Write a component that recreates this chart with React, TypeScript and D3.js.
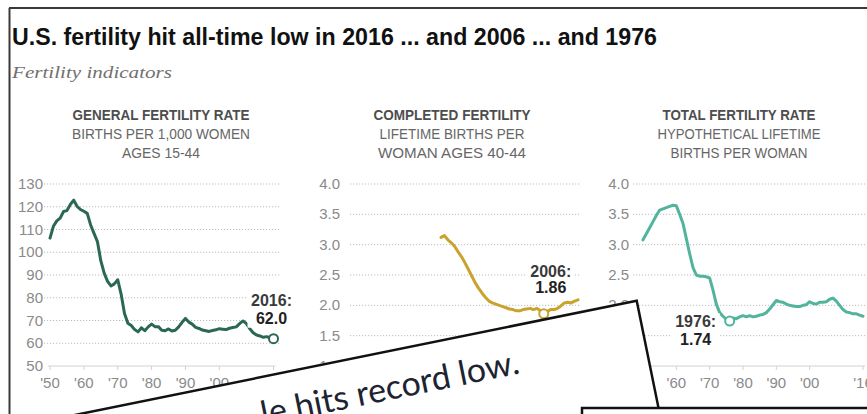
import React from 'react';
import * as d3 from 'd3';

// ---- data ----
const years = d3.range(1950, 2017);

const gfrValues = [
  106.2, 111.4, 113.8, 115.0, 117.9, 118.3, 121.0, 122.9, 120.2, 118.8,
  118.0, 117.1, 112.0, 108.3, 104.7, 96.3, 90.8, 87.2, 85.2, 86.1,
  87.9, 81.6, 73.1, 68.8, 67.8, 66.0, 65.0, 66.8, 65.5, 67.2,
  68.4, 67.3, 67.3, 65.7, 65.5, 66.3, 65.4, 65.7, 67.2, 69.2,
  70.9, 69.3, 68.4, 67.0, 66.5, 65.8, 65.5, 65.2, 65.6, 65.9,
  66.4, 66.2, 66.0, 66.6, 66.9, 67.2, 68.6, 69.8, 68.6, 66.4,
  64.6, 63.6, 63.2, 62.6, 62.9, 62.4, 62.0,
];

const completedYears = d3.range(1976, 2017);
const completedValues = [
  3.12, 3.15, 3.08, 3.03, 2.97, 2.88, 2.8, 2.7, 2.59, 2.48,
  2.37, 2.28, 2.2, 2.13, 2.07, 2.04, 2.02, 2.0, 1.98, 1.96,
  1.94, 1.93, 1.91, 1.91, 1.93, 1.94, 1.95, 1.93, 1.95, 1.91,
  1.86, 1.9, 1.93, 1.93, 1.95, 1.99, 2.04, 2.05, 2.04, 2.07,
  2.09,
];

const tfrValues = [
  3.08, 3.18, 3.28, 3.38, 3.48, 3.57, 3.59, 3.61, 3.63, 3.65,
  3.64, 3.5, 3.35, 3.1, 2.85, 2.62, 2.5, 2.48, 2.48, 2.47,
  2.45, 2.25, 2.02, 1.88, 1.82, 1.77, 1.74, 1.79, 1.78, 1.81,
  1.83, 1.81, 1.83, 1.81, 1.82, 1.84, 1.85, 1.88, 1.94, 2.01,
  2.08, 2.06, 2.05, 2.02, 2.0, 1.99, 1.98, 1.98, 2.0, 2.01,
  2.06, 2.03, 2.02, 2.05, 2.05, 2.06, 2.1, 2.12, 2.07, 2.0,
  1.93, 1.89, 1.88, 1.86, 1.86, 1.84, 1.82,
];

const gfrTicks = [50, 60, 70, 80, 90, 100, 110, 120, 130];
const rateTicks = [1.0, 1.5, 2.0, 2.5, 3.0, 3.5, 4.0];
const xTickYears = [1950, 1960, 1970, 1980, 1990, 2000, 2016];
const xTickLabels = ["'50", "'60", "'70", "'80", "'90", "'00", "'16"];

const panelTitles = ['GENERAL FERTILITY RATE', 'COMPLETED FERTILITY', 'TOTAL FERTILITY RATE'];
const panelSubtitles = [
  ['BIRTHS PER 1,000 WOMEN', 'AGES 15-44'],
  ['LIFETIME BIRTHS PER', 'WOMAN AGES 40-44'],
  ['HYPOTHETICAL LIFETIME', 'BIRTHS PER WOMAN'],
];
const lowYears = [2016, 2006, 1976];
const lowLabels = [
  ['2016:', '62.0'],
  ['2006:', '1.86'],
  ['1976:', '1.74'],
];

// ---- layout ----
const W = 867;
const H = 414;
const TOP = 184;
const BOTTOM = 366;
const SANS = "'Liberation Sans', Arial, sans-serif";
const NARROW = "'Liberation Sans Narrow', 'Liberation Sans', Arial, sans-serif";

const panels = [
  {
    xs: years, ys: gfrValues, ticks: gfrTicks, fmt: d3.format('d'),
    range: [50, 273.5], labelRight: 43, grid: [44, 280], cx: 161,
    color: '#2a6852', titleLen: 177, subLen: [178, 78],
    note: { dx: -2, dy: [-33, -15], box: [48, 36] },
  },
  {
    xs: completedYears, ys: completedValues, ticks: rateTicks, fmt: d3.format('.1f'),
    range: [352, 578], labelRight: 340, grid: [350, 580], cx: 452,
    color: '#c9a32e', titleLen: 157, subLen: [145, 148],
    note: { dx: 7, dy: [-37, -20.5], box: [48, 34] },
  },
  {
    xs: years, ys: tfrValues, ticks: rateTicks, fmt: d3.format('.1f'),
    range: [643, 863], labelRight: 629, grid: [633, 880], cx: 739,
    color: '#52b49c', titleLen: 153, subLen: [163, 137],
    note: { dx: -34, dy: [6, 24], box: [48, 34] },
  },
];

function Panel({ p, i }: { p: any; i: number }) {
  const x = d3.scaleLinear().domain([1950, 2016]).range(p.range);
  const y = d3.scaleLinear().domain(d3.extent(p.ticks) as [number, number]).range([BOTTOM, TOP]);
  const pts = p.xs.map((yr: number, k: number) => [yr, p.ys[k]] as [number, number]);
  const line = d3.line<[number, number]>().x((d) => x(d[0])).y((d) => y(d[1]));
  const lowIdx = p.xs.indexOf(lowYears[i]);
  const mx = x(lowYears[i]);
  const my = y(p.ys[lowIdx]);
  const tx = mx + p.note.dx;
  const b0 = my + p.note.dy[0];
  const b1 = my + p.note.dy[1];

  return (
    <g>
      <text x={p.cx} y={120} textAnchor="middle" fontFamily={NARROW} fontWeight="bold"
        fontSize={14} fill="#4d4d4d" textLength={p.titleLen} lengthAdjust="spacingAndGlyphs">
        {panelTitles[i]}
      </text>
      {panelSubtitles[i].map((s, k) => (
        <text key={k} x={p.cx} y={139 + k * 19} textAnchor="middle" fontFamily={NARROW}
          fontSize={14.5} fill="#666" textLength={p.subLen[k]} lengthAdjust="spacingAndGlyphs">
          {s}
        </text>
      ))}

      {p.ticks.map((t: number, k: number) => (
        <g key={k}>
          {k > 0 && (
            <line x1={p.grid[0]} x2={p.grid[1]} y1={y(t)} y2={y(t)} stroke="#bdbdbd"
              strokeWidth={1} strokeDasharray="1.2,1.8" />
          )}
          <text x={p.labelRight} y={y(t) + 5} textAnchor="end" fontFamily={SANS}
            fontSize={15} fill="#8a8a8a">
            {p.fmt(t)}
          </text>
        </g>
      ))}

      <line x1={p.range[0] - 2} x2={p.range[1] + 2} y1={BOTTOM} y2={BOTTOM} stroke="#d2d2d2" strokeWidth={1.2} />
      {xTickYears.map((yr, k) => (
        <g key={k}>
          <line x1={x(yr)} x2={x(yr)} y1={BOTTOM} y2={BOTTOM + 4} stroke="#d2d2d2" />
          <text x={x(yr)} y={388} textAnchor="middle" fontFamily={SANS} fontSize={15} fill="#8a8a8a">
            {xTickLabels[k]}
          </text>
        </g>
      ))}

      <path d={line(pts) || ''} fill="none" stroke={p.color} strokeWidth={3}
        strokeLinejoin="round" strokeLinecap="round" />

      <rect x={tx - p.note.box[0] / 2} y={b0 - 14} width={p.note.box[0]} height={b1 - b0 + 18} fill="#fff" />
      {lowLabels[i].map((s, k) => (
        <text key={k} x={tx} y={k === 0 ? b0 : b1} textAnchor="middle" fontFamily={SANS}
          fontWeight="bold" fontSize={16} fill={k === 0 ? '#3a3a3a' : '#222'}>
          {s}
        </text>
      ))}
      <circle cx={mx} cy={my} r={4.5} fill="#fff" stroke={p.color} strokeWidth={2} />
    </g>
  );
}

export default function App() {
  return (
    <svg width={W} height={H} style={{ position: 'absolute', left: 0, top: 0, background: '#fff' }}>
      <rect width={W} height={H} fill="#fff" />
      <line x1={9} x2={W} y1={8} y2={8} stroke="#3a3a3a" strokeWidth={2} />
      <line x1={9.5} x2={9.5} y1={8} y2={H} stroke="#3a3a3a" strokeWidth={2} />

      <text x={12} y={45} fontFamily={NARROW} fontWeight="bold" fontSize={23.5} fill="#111"
        textLength={645} lengthAdjust="spacingAndGlyphs">
        U.S. fertility hit all-time low in 2016 ... and 2006 ... and 1976
      </text>
      <text x={12} y={78} fontFamily="'Liberation Serif', 'DejaVu Serif', serif" fontStyle="italic"
        fontSize={17.5} fill="#707070" textLength={160} lengthAdjust="spacingAndGlyphs">
        Fertility indicators
      </text>

      {panels.map((p, i) => (
        <Panel key={i} p={p} i={i} />
      ))}

      {/* clipped newspaper cut-outs lying over the chart */}
      <g transform="translate(636.7,300.7) rotate(-11.5)">
        <rect x={-900} y={0} width={900} height={300} fill="#fff" stroke="#111" strokeWidth={2.5} />
        <text x={-128} y={48} textAnchor="end" fontFamily="Lato, 'Open Sans', sans-serif"
          fontSize={34} fill="#1d2330">
          le hits record low.
        </text>
      </g>
      <rect x={582} y={408} width={320} height={40} fill="#fff" stroke="#111" strokeWidth={2.5} />
    </svg>
  );
}
